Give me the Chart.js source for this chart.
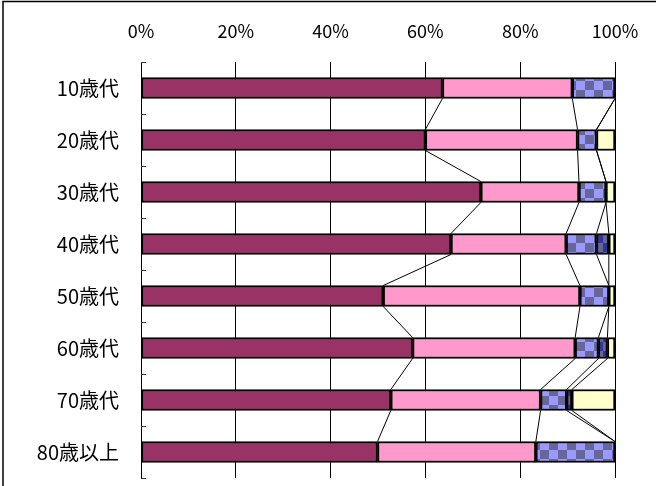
<!DOCTYPE html>
<html>
<head>
<meta charset="utf-8">
<script src="https://cdn.jsdelivr.net/npm/chart.js@4"></script>
<style>
    html, body { margin: 0; padding: 0; background: #ffffff; }
    #wrap { width: 656px; height: 486px; }
</style>
</head>
<body>
<div id="wrap"><canvas id="ageChart" width="656" height="486"></canvas></div>
<script>
// Age groups and their share per answer (percent)
const categories = ['10歳代', '20歳代', '30歳代', '40歳代', '50歳代', '60歳代', '70歳代', '80歳以上'];
const seriesMaroon = [63.6, 60.0, 71.7, 65.4, 51.1, 57.3, 52.7, 49.9];
const seriesPink   = [27.4, 32.1, 20.7, 24.3, 41.5, 34.3, 31.6, 33.4];
const seriesBlue   = [9.0, 4.0, 5.7, 6.4, 6.1, 4.9, 5.5, 16.7];
const seriesNavy   = [0, 0, 0, 2.6, 0, 1.9, 1.1, 0];
const seriesYellow = [0, 3.9, 1.9, 1.3, 1.3, 1.6, 9.1, 0];
const xTicks = [0, 20, 40, 60, 80, 100];

const FONT = '"Noto Sans CJK JP", "Noto Sans", sans-serif';

function checker(c1, c2, cell) {
    const cv = document.createElement('canvas');
    cv.width = cell * 2;
    cv.height = cell * 2;
    const g = cv.getContext('2d');
    g.fillStyle = c1;
    g.fillRect(0, 0, cell * 2, cell * 2);
    g.fillStyle = c2;
    g.fillRect(0, 0, cell, cell);
    g.fillRect(cell, cell, cell, cell);
    return g.createPattern(cv, 'repeat');
}

// Excel style "series lines" between stacked bars
const seriesLines = {
    id: 'seriesLines',
    afterDatasetsDraw(chart) {
        const ctx = chart.ctx;
        const x = chart.scales.x;
        const bars = chart.getDatasetMeta(0).data;
        const sets = chart.data.datasets;
        ctx.save();
        ctx.strokeStyle = '#000000';
        ctx.lineWidth = 1;
        for (let k = 1; k < sets.length; k++) {
            const cum = categories.map((c, i) => {
                let s = 0;
                for (let d = 0; d < k; d++) s += sets[d].data[i];
                return s;
            });
            for (let i = 0; i < categories.length - 1; i++) {
                const b1 = bars[i], b2 = bars[i + 1];
                ctx.beginPath();
                ctx.moveTo(x.getPixelForValue(cum[i]), b1.y + b1.height / 2);
                ctx.lineTo(x.getPixelForValue(cum[i + 1]), b2.y - b2.height / 2);
                ctx.stroke();
            }
        }
        ctx.restore();
    }
};

// frame, white background and small category ticks
const decor = {
    id: 'decor',
    beforeDraw(chart) {
        const ctx = chart.ctx;
        ctx.save();
        ctx.fillStyle = '#ffffff';
        ctx.fillRect(0, 0, chart.width, chart.height);
        ctx.strokeStyle = '#000000';
        ctx.lineWidth = 1.5;
        ctx.strokeRect(3, 1.5, chart.width + 20, chart.height + 20);
        ctx.restore();
    },
    afterDraw(chart) {
        const ctx = chart.ctx;
        const a = chart.chartArea;
        const step = (a.bottom - a.top) / categories.length;
        ctx.save();
        ctx.strokeStyle = '#333333';
        ctx.lineWidth = 1;
        for (let i = 0; i <= categories.length; i++) {
            const y = Math.round(a.top + i * step) + 0.5;
            ctx.beginPath();
            ctx.moveTo(a.left, y);
            ctx.lineTo(a.left + 5, y);
            ctx.stroke();
        }
        ctx.restore();
    }
};

const blueFill = checker('#9999ff', '#666699', 9);
const navyFill = checker('#666699', '#333399', 9);

function makeSet(label, data, fill) {
    return {
        label: label,
        data: data,
        backgroundColor: fill,
        borderColor: '#000000',
        borderWidth: 2,
        borderSkipped: false,
        barThickness: 21
    };
}

new Chart(document.getElementById('ageChart'), {
    type: 'bar',
    data: {
        labels: categories,
        datasets: [
            makeSet('a', seriesMaroon, '#993366'),
            makeSet('b', seriesPink, '#ff99cc'),
            makeSet('c', seriesBlue, blueFill),
            makeSet('d', seriesNavy, navyFill),
            makeSet('e', seriesYellow, '#ffffcc')
        ]
    },
    options: {
        indexAxis: 'y',
        responsive: false,
        animation: false,
        layout: {
            padding: { left: 0, right: 41, top: 0, bottom: 8 }
        },
        plugins: {
            legend: { display: false },
            tooltip: { enabled: false }
        },
        scales: {
            x: {
                position: 'top',
                stacked: true,
                min: 0,
                max: 100,
                afterBuildTicks: function (scale) {
                    scale.ticks = xTicks.map(v => ({ value: v }));
                },
                afterFit: function (scale) {
                    scale.height = 62;
                    scale.paddingLeft = 0;
                    scale.paddingRight = 0;
                },
                ticks: {
                    color: '#000000',
                    padding: 20,
                    font: { family: FONT, size: 18 },
                    callback: function (value) {
                        return value + '%';
                    }
                },
                grid: {
                    color: '#000000',
                    lineWidth: 1,
                    drawTicks: false
                },
                border: { display: false }
            },
            y: {
                stacked: true,
                afterFit: function (scale) {
                    scale.width = 141;
                    scale.paddingTop = 0;
                    scale.paddingBottom = 0;
                },
                ticks: {
                    color: '#000000',
                    padding: 22,
                    font: { family: FONT, size: 20 }
                },
                grid: { display: false, drawTicks: false },
                border: { display: false }
            }
        }
    },
    plugins: [decor, seriesLines]
});
</script>
</body>
</html>
